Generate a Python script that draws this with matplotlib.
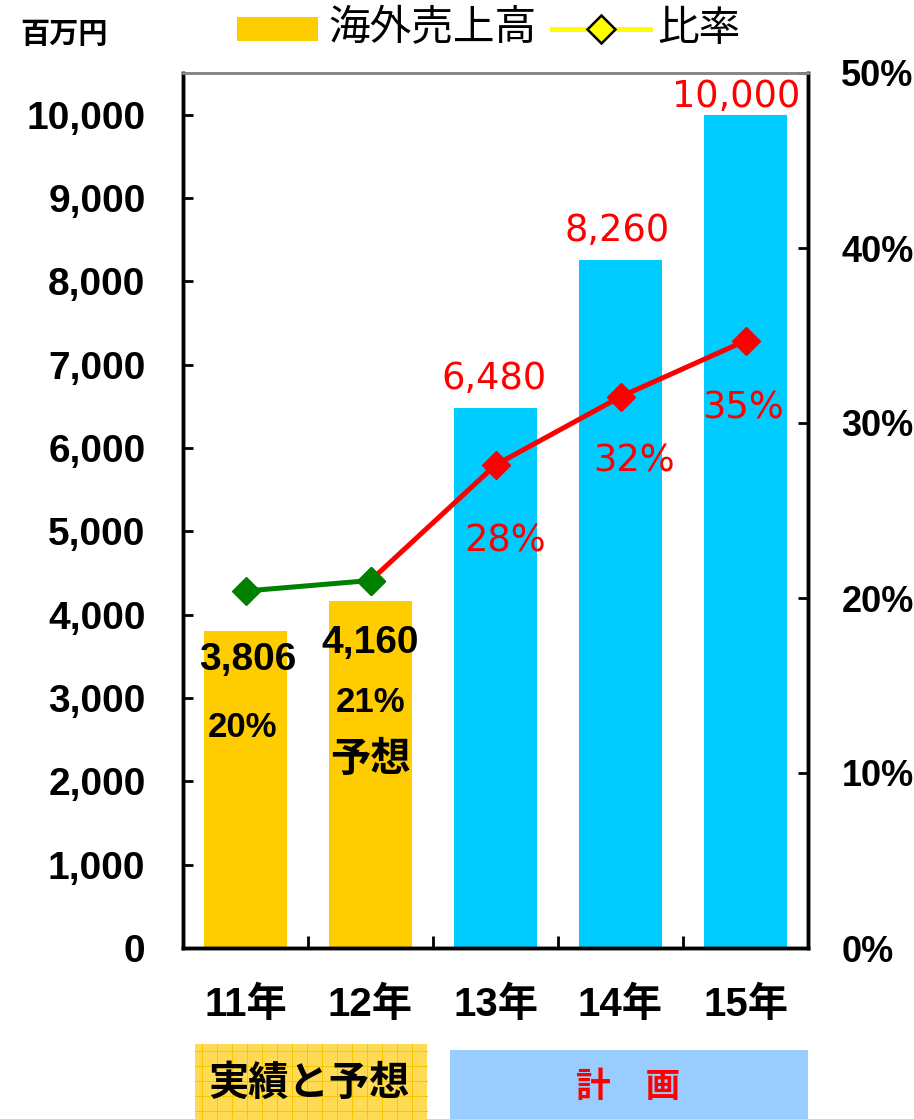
import matplotlib
matplotlib.use("Agg")
import matplotlib.pyplot as plt
from matplotlib.patches import Rectangle
from matplotlib.lines import Line2D
import numpy as np

plt.rcParams['font.family'] = ['Liberation Sans', 'Noto Sans CJK JP', 'DejaVu Sans']

# ---- data ----
categories = ['11年', '12年', '13年', '14年', '15年']
sales = [3806, 4160, 6480, 8260, 10000]
sales_labels = ['3,806', '4,160', '6,480', '8,260', '10,000']
ratio = [0.204, 0.210, 0.276, 0.315, 0.347]
ratio_labels = ['20%', '21%', '28%', '32%', '35%']
bar_colors = ['#FFCC00', '#FFCC00', '#00CCFF', '#00CCFF', '#00CCFF']
left_ticks = list(range(0, 10001, 1000))
right_ticks = [0, 0.1, 0.2, 0.3, 0.4, 0.5]
right_tick_labels = ['0%', '10%', '20%', '30%', '40%', '50%']
legend_labels = ['海外売上高', '比率']

W, H = 914, 1119
fig = plt.figure(figsize=(W / 100, H / 100), dpi=100)
ax = fig.add_axes([183 / W, (H - 948) / H, (808 - 183) / W, (948 - 73) / H])
ax2 = ax.twinx()

x = np.arange(len(categories))
ax.bar(x, sales, width=0.67, color=bar_colors, zorder=2)
ax.set_xlim(-0.5, len(categories) - 0.5)
ax.set_ylim(0, 10500)
ax.set_yticks(left_ticks)
ax.set_yticklabels([f'{v:,}' for v in left_ticks])
ax.tick_params(axis='y', direction='in', length=7, width=2, pad=27,
               labelsize=28)
for t in ax.get_yticklabels():
    t.set_fontweight('bold')
ax.set_xticks(x)
ax.set_xticklabels(categories)
ax.set_xticks(x[:-1] + 0.5, minor=True)
ax.tick_params(axis='x', which='major', length=0, pad=27, labelsize=29)
ax.tick_params(axis='x', which='minor', direction='in', length=9, width=2)
for t in ax.get_xticklabels():
    t.set_fontweight('bold')

for a in (ax, ax2):
    for sp in ['left', 'bottom', 'right']:
        a.spines[sp].set_linewidth(2.5)
    a.spines['top'].set_color('#888888')
    a.spines['top'].set_linewidth(2)

ax2.set_ylim(0, 0.5)
ax2.set_yticks(right_ticks)
ax2.set_yticklabels(right_tick_labels)
ax2.tick_params(axis='y', direction='in', length=7, width=2, pad=24,
                labelsize=26)
for t in ax2.get_yticklabels():
    t.set_fontweight('bold')

# ratio line: green for actual part, red for plan part
ax2.plot(x[:2], ratio[:2], color='#008000', lw=3.6, marker='D', ms=14,
         zorder=5)
ax2.plot(x[1:], ratio[1:], color='#FF0000', lw=3.6, zorder=4)
ax2.plot(x[2:], ratio[2:], color='#FF0000', lw=0, marker='D', ms=14,
         zorder=5)
ax2.plot(x[1:2], ratio[1:2], color='#008000', lw=0, marker='D', ms=14,
         zorder=6)

px = 1 / 1.389  # pixel -> point

# value labels
val_off = [(2, -29), (0, -42), (-2, 30), (-3, 29), (-9, 18)]
for i in range(len(categories)):
    dx, dy = val_off[i]
    if i < 2:
        ax.annotate(sales_labels[i], (x[i], sales[i]),
                    xytext=(dx * px, dy * px), textcoords='offset points',
                    ha='center', va='center', fontsize=28, color='black',
                    fontweight='bold', zorder=7)
    else:
        ax.annotate(sales_labels[i], (x[i], sales[i]),
                    xytext=(dx * px, dy * px), textcoords='offset points',
                    ha='center', va='center', fontsize=26.5, color='#FF0000',
                    family=['DejaVu Sans'], zorder=7)

# ratio labels
rat_pos = [(-3, 728), (0, 703), (10, 541), (14, 461), (-2, 408)]
for i in range(len(categories)):
    dx, ypx = rat_pos[i]
    y_line = 948 - ratio[i] / 0.5 * 875
    if i < 2:
        ax2.annotate(ratio_labels[i], (x[i], ratio[i]),
                     xytext=(dx * px, -(ypx - y_line) * px),
                     textcoords='offset points', ha='center', va='center',
                     fontsize=25, fontweight='bold', color='black', zorder=7)
    else:
        ax2.annotate(ratio_labels[i], (x[i], ratio[i]),
                     xytext=(dx * px, -(ypx - y_line) * px),
                     textcoords='offset points', ha='center', va='center',
                     fontsize=26.5, color='#FF0000',
                     family=['DejaVu Sans'], zorder=7)
ax2.annotate('予想', (x[1], ratio[1]),
             xytext=(0, -(760 - (948 - ratio[1] / 0.5 * 875)) * px),
             textcoords='offset points', ha='center', va='center',
             fontsize=29, fontweight='bold', family=['Noto Sans CJK JP'],
             zorder=7)

# unit label
fig.text(20 / W, 1 - 34 / H, '百万円', fontsize=21, fontweight='bold',
         family=['Noto Sans CJK JP'], ha='left', va='center')

# legend (drawn manually at the top)
ly = 1 - 29 / H
fig.patches.append(Rectangle((237 / W, 1 - 41 / H), 81 / W, 24 / H,
                             transform=fig.transFigure, facecolor='#FFCC00',
                             edgecolor='none'))
fig.text(328 / W, ly, legend_labels[0], fontsize=30,
         family=['Noto Sans CJK JP'], ha='left', va='center')
fig.add_artist(Line2D([552 / W, 650 / W], [ly, ly], transform=fig.transFigure,
                      color='#FFFF00', lw=3.6))
fig.add_artist(Line2D([601 / W], [ly], transform=fig.transFigure,
                      color='#FFFF00', marker='D', ms=14,
                      markerfacecolor='#FFFF00', markeredgecolor='black',
                      markeredgewidth=1.8, lw=0))
fig.text(657 / W, ly, legend_labels[1], fontsize=30,
         family=['Noto Sans CJK JP'], ha='left', va='center')

# bottom boxes
bx0, bx1, by0, by1 = 195, 427, 1044, 1119
fig.patches.append(Rectangle((bx0 / W, 1 - by1 / H), (bx1 - bx0) / W,
                             (by1 - by0) / H, transform=fig.transFigure,
                             facecolor='#FFDB55', edgecolor='none', zorder=0))
for gx in np.arange(bx0 + 7, bx1, 15):
    fig.add_artist(Line2D([gx / W, gx / W], [1 - by1 / H, 1 - by0 / H],
                          transform=fig.transFigure, color='#F7C600', lw=0.7))
for gy in np.arange(by0 + 7, by1, 15):
    fig.add_artist(Line2D([bx0 / W, bx1 / W], [1 - gy / H, 1 - gy / H],
                          transform=fig.transFigure, color='#F7C600', lw=0.7))
fig.text((bx0 + bx1) / 2 / W - 2 / W, 1 - 1083 / H, '実績と予想', fontsize=29,
         fontweight='bold', family=['Noto Sans CJK JP'], ha='center',
         va='center')

cx0, cx1, cy0, cy1 = 450, 808, 1050, 1119
fig.patches.append(Rectangle((cx0 / W, 1 - cy1 / H), (cx1 - cx0) / W,
                             (cy1 - cy0) / H, transform=fig.transFigure,
                             facecolor='#99CCFF', edgecolor='none', zorder=0))
fig.text(628 / W, 1 - 1086 / H, '計\u3000画', fontsize=25,
         fontweight='bold', family=['Noto Sans CJK JP'], color='#FF0000',
         ha='center', va='center')

fig.savefig('out.png', dpi=100)
